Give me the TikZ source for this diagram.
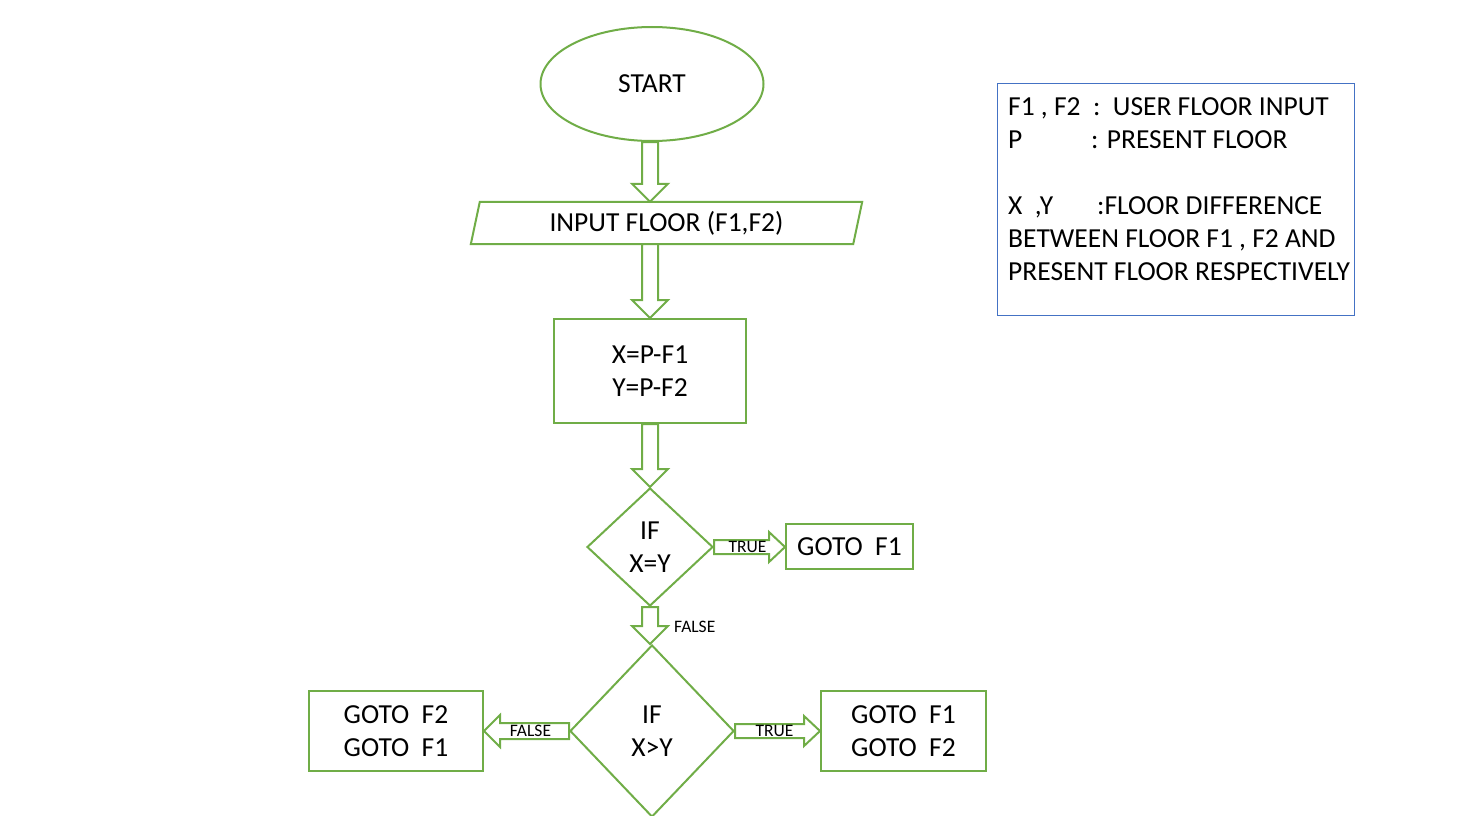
\documentclass[tikz,border=0pt]{standalone}
\usepackage{fontspec}
\setmainfont{Carlito}
\usetikzlibrary{shapes.geometric,calc}
\definecolor{fgreen}{HTML}{70AD47}
\definecolor{fblue}{HTML}{4472C4}
\newcommand\dnarrow[2]{\path[blk] let \p1=(#1), \p2=(#2) in (\x1-8,\y1) -- (\x1-8,\y2+18) -- (\x1-18,\y2+18) -- (\x1,\y2) -- (\x1+18,\y2+18) -- (\x1+8,\y2+18) -- (\x1+8,\y1) -- cycle;}
\newcommand\rtarrow[2]{\path[blk] let \p1=(#1), \p2=(#2) in (\x1,\y1-7) -- (\x2-16,\y1-7) -- (\x2-16,\y1-15) -- (\x2,\y1) -- (\x2-16,\y1+15) -- (\x2-16,\y1+7) -- (\x1,\y1+7) -- cycle;}
\newcommand\lfarrow[2]{\path[blk] let \p1=(#1), \p2=(#2) in (\x1,\y1-8) -- (\x2+16,\y1-8) -- (\x2+16,\y1-16) -- (\x2,\y1) -- (\x2+16,\y1+16) -- (\x2+16,\y1+8) -- (\x1,\y1+8) -- cycle;}
\begin{document}
\begin{tikzpicture}[x=1pt,y=-1pt,
  shp/.style={draw=fgreen,line width=2pt,fill=white,inner sep=0pt,align=center,
    font=\fontsize{27.5}{33}\selectfont},
  blk/.style={draw=fgreen,line width=2pt,fill=white},
  lbl/.style={font=\fontsize{17.5}{20}\selectfont,inner sep=0pt},
  legtxt/.style={font=\fontsize{27.5}{33}\selectfont,inner sep=0pt,align=left}]
\useasboundingbox (0,0) rectangle (1464,816);
% nodes
\node[shp,ellipse,minimum width=223pt,minimum height=114pt] (start) at (652,84) {START};
\node[inner sep=0pt,minimum width=382pt,minimum height=42pt] (inp) at (666.5,223) {};
\draw[draw=fgreen,line width=2pt] ([xshift=4.5pt]inp.north west) -- ([xshift=4.5pt]inp.north east)
  -- ([xshift=-4.5pt]inp.south east) -- ([xshift=-4.5pt]inp.south west) -- cycle;
\node[font=\fontsize{27.5}{33}\selectfont,inner sep=0pt] (inptxt) at (666.5,223) {INPUT FLOOR (F1,F2)};
\node[shp,rectangle,minimum width=192pt,minimum height=104pt] (calc) at (650,371) {X=P-F1\\Y=P-F2};
\node[shp,diamond,minimum width=126pt,minimum height=118pt] (d1) at (650,547) {IF\\X=Y};
\node[shp,rectangle,minimum width=127pt,minimum height=45pt] (g1) at (849.5,546.5) {GOTO\ \ F1};
\node[shp,diamond,minimum width=164pt,minimum height=172pt] (d2) at (652,731) {IF\\X>Y};
\node[shp,rectangle,minimum width=174pt,minimum height=80pt] (gl) at (396,731) {GOTO\ \ F2\\GOTO\ \ F1};
\node[shp,rectangle,minimum width=165pt,minimum height=80pt] (gr) at (903.5,731) {GOTO\ \ F1\\GOTO\ \ F2};
% connectors
\dnarrow{calc.north |- start.south}{calc.north |- inp.north}
\dnarrow{calc.north |- inp.south}{calc.north}
\dnarrow{calc.south}{d1.north}
\rtarrow{d1.east}{g1.west}
\dnarrow{d1.south}{d1.south |- d2.north}
\rtarrow{d2.east}{gr.west}
\lfarrow{d2.west}{gl.east}
% labels
\node[lbl] (t1) at ($(d1.east)!0.5!(g1.west)+(-2,0)$) {TRUE};
\node[lbl,anchor=west] (f1) at ($(d1.south)!0.5!(d1.south |- d2.north)+(24,1)$) {FALSE};
\node[lbl] (t2) at ($(d2.east)!0.5!(gr.west)+(-3,0)$) {TRUE};
\node[lbl] (f2) at ($(d2.west)!0.5!(gl.east)+(4,0)$) {FALSE};
% legend
\node[draw=fblue,line width=1pt,minimum width=357pt,minimum height=232pt,inner sep=0pt] (legbox) at (1175.5,199) {};
\node[legtxt,anchor=north west] (leg) at (1008,97) {F1 , F2\ \ :\ \ USER FLOOR INPUT\\
\makebox[83pt][l]{P}: PRESENT FLOOR\\[33pt]
\makebox[89pt][l]{X\ \ ,Y}:FLOOR DIFFERENCE\\
BETWEEN FLOOR F1 , F2 AND\\
PRESENT FLOOR RESPECTIVELY};
\end{tikzpicture}
\end{document}
